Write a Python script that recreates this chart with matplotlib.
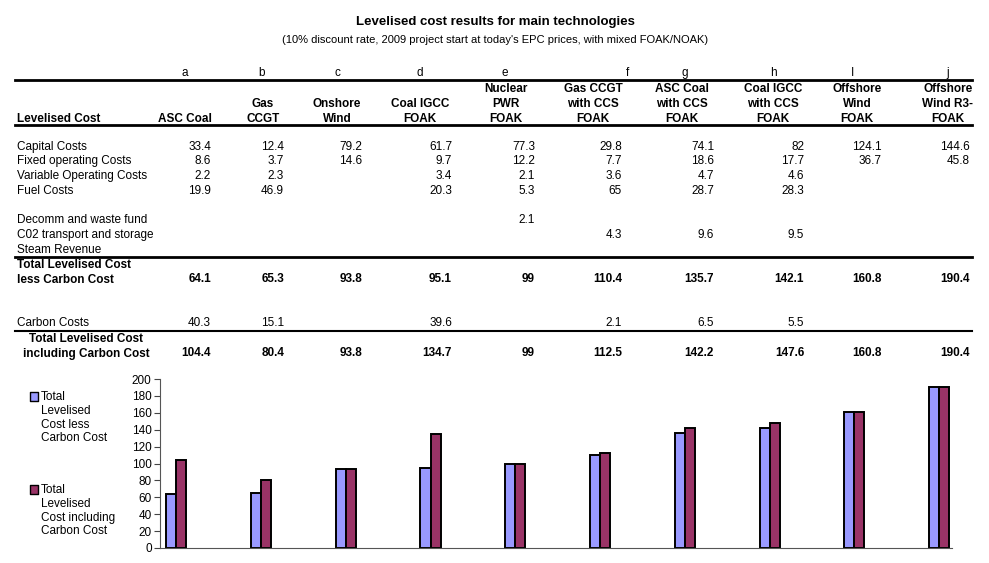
import matplotlib
matplotlib.use("Agg")
import matplotlib.pyplot as plt
import numpy as np

plt.rcParams['font.family'] = ['Liberation Sans', 'DejaVu Sans']

# ---- data ----
col_letters = ['a', 'b', 'c', 'd', 'e', 'f', 'g', 'h', 'I', 'j']
tech_names = ['ASC Coal', 'Gas\nCCGT', 'Onshore\nWind', 'Coal IGCC\nFOAK',
              'Nuclear\nPWR\nFOAK', 'Gas CCGT\nwith CCS\nFOAK',
              'ASC Coal\nwith CCS\nFOAK', 'Coal IGCC\nwith CCS\nFOAK',
              'Offshore\nWind\nFOAK', 'Offshore\nWind R3-\nFOAK']

capital = ['33.4', '12.4', '79.2', '61.7', '77.3', '29.8', '74.1', '82', '124.1', '144.6']
fixed_om = ['8.6', '3.7', '14.6', '9.7', '12.2', '7.7', '18.6', '17.7', '36.7', '45.8']
variable_om = ['2.2', '2.3', '', '3.4', '2.1', '3.6', '4.7', '4.6', '', '']
fuel = ['19.9', '46.9', '', '20.3', '5.3', '65', '28.7', '28.3', '', '']
decomm = ['', '', '', '', '2.1', '', '', '', '', '']
co2_ts = ['', '', '', '', '', '4.3', '9.6', '9.5', '', '']
steam = [''] * 10
carbon = ['40.3', '15.1', '', '39.6', '', '2.1', '6.5', '5.5', '', '']

total_less_carbon = [64.1, 65.3, 93.8, 95.1, 99, 110.4, 135.7, 142.1, 160.8, 190.4]
total_incl_carbon = [104.4, 80.4, 93.8, 134.7, 99, 112.5, 142.2, 147.6, 160.8, 190.4]

# ---- layout (pixels) ----
W, H = 989, 563
num_right = [211, 284, 362, 452, 535, 622, 714, 804, 882, 970]
head_ctr = [185, 263, 337, 420, 506, 593, 682, 773, 857, 948]
letter_x = [185, 262, 337, 420, 505, 627, 685, 773, 852, 948]

fig = plt.figure(figsize=(W / 100, H / 100), dpi=100)
tab = fig.add_axes([0, 0, 1, 1])
tab.set_xlim(0, W)
tab.set_ylim(H, 0)
tab.axis('off')

fs = 8.5
tab.text(495, 22, 'Levelised cost results for main technologies', ha='center', va='center',
         fontsize=9.5, fontweight='bold')
tab.text(495, 40, "(10% discount rate, 2009 project start at today's EPC prices, with mixed FOAK/NOAK)",
         ha='center', va='center', fontsize=8)

for x, l in zip(letter_x, col_letters):
    tab.text(x, 73, l, ha='center', va='center', fontsize=fs)

tab.plot([15, 972], [79.5, 79.5], color='black', lw=2)
tab.plot([15, 972], [124.5, 124.5], color='black', lw=2)
tab.plot([15, 972], [257, 257], color='black', lw=2)
tab.plot([15, 972], [330.5, 330.5], color='black', lw=1.5)

tab.text(17, 119, 'Levelised Cost', ha='left', va='center', fontsize=fs, fontweight='bold')
for x, name in zip(head_ctr, tech_names):
    tab.text(x, 124.5, name, ha='center', va='bottom', fontsize=fs, fontweight='bold',
             linespacing=1.3)

rows = [('Capital Costs', capital, 147),
        ('Fixed operating Costs', fixed_om, 161),
        ('Variable Operating Costs', variable_om, 176),
        ('Fuel Costs', fuel, 191),
        ('Decomm and waste fund', decomm, 220),
        ('C02 transport and storage', co2_ts, 235),
        ('Steam Revenue', steam, 250),
        ('Carbon Costs', carbon, 323)]
for label, vals, y in rows:
    tab.text(17, y, label, ha='left', va='center', fontsize=fs)
    for x, v in zip(num_right, vals):
        tab.text(x, y, v, ha='right', va='center', fontsize=fs)

tab.text(17, 272.5, 'Total Levelised Cost\nless Carbon Cost', ha='left', va='center',
         fontsize=fs, fontweight='bold', linespacing=1.35)
for x, v in zip(num_right, total_less_carbon):
    tab.text(x, 279, f'{v:g}', ha='right', va='center', fontsize=fs, fontweight='bold')

tab.text(86, 346.5, 'Total Levelised Cost\nincluding Carbon Cost', ha='center', va='center',
         fontsize=fs, fontweight='bold', linespacing=1.35)
for x, v in zip(num_right, total_incl_carbon):
    tab.text(x, 353, f'{v:g}', ha='right', va='center', fontsize=fs, fontweight='bold')

# ---- bar chart ----
blue = '#9999FF'
maroon = '#993366'
ax = fig.add_axes([160 / W, (H - 548) / H, (952 - 160) / W, (548 - 379) / H])
ax.patch.set_alpha(0)
x = np.arange(len(total_less_carbon))
bw = 0.118
ax.bar(x - bw / 2, total_less_carbon, bw, color=blue, edgecolor='black', linewidth=1.4)
ax.bar(x + bw / 2, total_incl_carbon, bw, color=maroon, edgecolor='black', linewidth=1.4)
ax.set_xlim(-0.19, 9.15)
ax.set_ylim(0, 200)
ax.set_yticks(np.arange(0, 201, 20))
ax.tick_params(axis='y', labelsize=8.5, length=4, width=0.8, color='#444444', pad=2)
ax.set_xticks([])
for s in ['top', 'right']:
    ax.spines[s].set_visible(False)
ax.spines['left'].set_color('#555555')
ax.spines['bottom'].set_color('#555555')
ax.spines['left'].set_linewidth(0.8)
ax.spines['bottom'].set_linewidth(0.8)

# legend drawn at left
tab.scatter([34, 34], [396.5, 489.5], s=40, marker='s', c=[blue, maroon], edgecolors='black',
            linewidths=1)
tab.text(41, 391, 'Total\nLevelised\nCost less\nCarbon Cost', ha='left', va='top',
         fontsize=8.5, linespacing=1.2)
tab.text(41, 484, 'Total\nLevelised\nCost including\nCarbon Cost', ha='left', va='top',
         fontsize=8.5, linespacing=1.2)

fig.savefig('out.png', dpi=100)
